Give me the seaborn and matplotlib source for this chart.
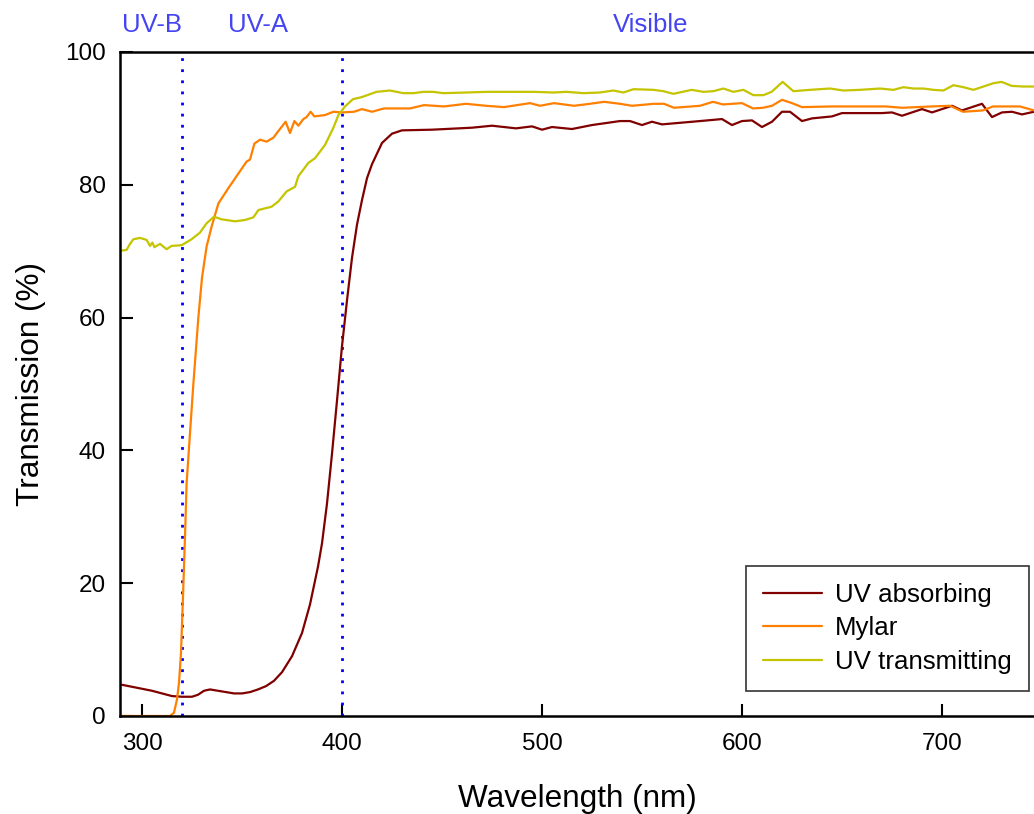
import numpy as np
import pandas as pd
import matplotlib
matplotlib.use("Agg")
import matplotlib.pyplot as plt
import seaborn as sns

# Transmission spectra of three plastic films
uv_abs_wl = [290, 295, 300, 305, 310, 315, 320, 325, 328, 331, 334, 338, 342, 346, 350,
             354, 358, 362, 366, 370, 375, 380, 384, 388, 390, 392.5, 395, 397.5, 400,
             402.5, 405, 407.5, 410, 412.5, 415, 420, 425, 430, 445, 465, 475, 487, 495,
             500, 505, 515, 525, 539, 544, 550, 555, 560, 579, 590, 595, 600, 605, 610,
             615, 620, 624, 630, 635, 645, 650, 670, 675, 680, 690, 695, 705, 710, 720,
             725, 730, 735, 740, 746]
uv_abs_t = [4.7, 4.4, 4.1, 3.8, 3.4, 3.0, 2.9, 2.9, 3.2, 3.8, 4.0, 3.8, 3.6, 3.4, 3.4,
            3.6, 4.0, 4.5, 5.3, 6.6, 9.0, 12.5, 16.8, 22.5, 26.0, 32.0, 39.5, 47.5, 55.7,
            62.6, 69.0, 74.0, 77.7, 81.0, 83.1, 86.3, 87.7, 88.2, 88.3, 88.6, 88.9, 88.5, 88.8,
            88.3, 88.7, 88.4, 89.0, 89.6, 89.6, 89.0, 89.5, 89.1, 89.6, 89.9, 89.0, 89.6, 89.7, 88.7,
            89.5, 91.0, 91.0, 89.6, 90.0, 90.3, 90.8, 90.8, 90.9, 90.4, 91.4, 90.9, 91.9, 91.2, 92.2,
            90.2, 90.9, 91.0, 90.6, 91.0]

mylar_wl = [290, 300, 310, 314, 316, 317.5, 318.5, 319.5, 320.5, 321.5, 322.3, 324, 325.7,
            328.2, 330, 332.3, 334.8, 338.2, 343.2, 348.2, 352.3, 354, 356.2, 359, 362.3,
            365.7, 368.2, 371.8, 374, 376.2, 378.2, 380.7, 382.3, 384.3, 386.2, 391.5, 395.7,
            400, 406, 410, 415, 421, 434, 441, 451, 462, 472, 481, 494, 499, 506, 516, 524,
            531, 539, 545, 556, 561, 566, 579, 585.5, 590.5, 600, 605.5, 610.5, 615, 620,
            625, 630, 645, 662, 672, 680, 695, 704, 710.5, 720.5, 725.5, 739, 746]
mylar_t = [0.0, 0.0, 0.0, 0.0, 0.5, 2.5, 5.0, 9.5, 18.0, 27.0, 35.0, 42.6, 50.1,
           60.1, 66.0, 70.7, 73.7, 77.2, 79.5, 81.7, 83.5, 83.8, 86.2, 86.8, 86.5,
           87.1, 88.1, 89.5, 87.8, 89.6, 88.9, 89.9, 90.2, 91.0, 90.3, 90.5, 91.0,
           90.9, 91.0, 91.4, 91.0, 91.5, 91.5, 92.0, 91.8, 92.2, 91.9, 91.7, 92.3, 91.9, 92.3, 91.9, 92.2,
           92.5, 92.2, 91.9, 92.2, 92.2, 91.6, 91.9, 92.5, 92.1, 92.3, 91.5, 91.6, 91.9, 92.8,
           92.3, 91.7, 91.8, 91.8, 91.8, 91.6, 91.8, 91.9, 91.0, 91.2, 91.8, 91.8, 91.2]

uvt_wl = [290, 292.3, 294, 295.7, 299, 302.3, 304, 305.2, 306.2, 309, 312.3, 314.8, 319.8,
          324.8, 329, 332.3, 336, 339.8, 346.5, 351.5, 355.7, 358.2, 364.8, 368.2, 372.3,
          376.5, 378.2, 383.2, 386.5, 391.5, 395.7, 398.2, 401.5, 405.5, 409.8, 417.3, 424,
          430.7, 435.7, 440.7, 445.5, 450.7, 462.3, 472.3, 495.7, 505.7, 512.3, 520.7, 529,
          535.7, 540.7, 545.7, 555.7, 560.7, 565.7, 574.8, 580.7, 585.7, 590.7, 595.7, 600.7,
          605.7, 610.7, 614.8, 620.3, 625.7, 634, 644, 650.7, 659, 669, 675.7, 680.7, 685.7,
          690.7, 695.7, 700.7, 705.7, 710.7, 715.7, 720.7, 725.7, 729.8, 734.8, 740.5, 746]
uvt_t = [70.1, 70.2, 71.1, 71.8, 72.0, 71.7, 70.8, 71.3, 70.6, 71.1, 70.3, 70.8, 70.9,
         71.8, 72.8, 74.2, 75.2, 74.8, 74.5, 74.7, 75.1, 76.2, 76.7, 77.5, 79.0,
         79.7, 81.3, 83.3, 84.0, 86.0, 88.6, 90.5, 91.8, 92.9, 93.2, 94.0, 94.2,
         93.8, 93.8, 94.0, 94.0, 93.8, 93.9, 94.0, 94.0, 93.9, 94.0, 93.8, 93.9,
         94.2, 93.9, 94.4, 94.3, 94.1, 93.7, 94.3, 94.0, 94.1, 94.5, 94.0, 94.3,
         93.5, 93.5, 94.0, 95.5, 94.1, 94.3, 94.5, 94.2, 94.3, 94.5, 94.3, 94.7, 94.5,
         94.5, 94.3, 94.2, 95.0, 94.7, 94.3, 94.8, 95.3, 95.5, 94.9, 94.8, 94.8]

series_names = ["UV absorbing", "Mylar", "UV transmitting"]
series_colors = ["#800000", "#FF8000", "#C4C400"]

band_edges = [320, 400]
band_labels = ["UV-B", "UV-A", "Visible"]
band_label_x = [305, 358, 554.5]

x_ticks = [300, 400, 500, 600, 700]
y_ticks = [0, 20, 40, 60, 80, 100]

frames = []
for name, wl, t in zip(series_names,
                       [uv_abs_wl, mylar_wl, uvt_wl],
                       [uv_abs_t, mylar_t, uvt_t]):
    frames.append(pd.DataFrame({"Wavelength": wl, "Transmission": t, "Film": name}))
df = pd.concat(frames, ignore_index=True)

sns.set_style("ticks")
plt.rcParams["font.family"] = ["Liberation Sans", "DejaVu Sans"]
plt.rcParams["text.color"] = "black"
plt.rcParams["axes.labelcolor"] = "black"

fig = plt.figure(figsize=(10.34, 8.14), dpi=100)
ax = fig.add_axes([120 / 1034, 98 / 814, 914 / 1034, 664 / 814])

sns.lineplot(data=df, x="Wavelength", y="Transmission", hue="Film",
             hue_order=series_names, palette=dict(zip(series_names, series_colors)),
             estimator=None, sort=False, linewidth=1.6, ax=ax)

for edge in band_edges:
    ax.plot([edge, edge], [0, 100], color="#0000FF", linewidth=2,
            linestyle=(0, (1, 3)), zorder=1)

trans = matplotlib.transforms.blended_transform_factory(ax.transData, ax.transAxes)
for lbl, xc in zip(band_labels, band_label_x):
    ax.text(xc, 1.041, lbl, transform=trans, ha="center", va="center",
            fontsize=18.5, color="#4444F2")

ax.set_xlim(289, 746)
ax.set_ylim(0, 100)
ax.set_xticks(x_ticks)
ax.set_yticks(y_ticks)
ax.tick_params(direction="in", length=9, width=1.5, labelsize=17.5, pad=12,
               colors="black", labelcolor="black", top=False, right=False)
ax.tick_params(axis="y", pad=10)

for side in ["left", "bottom", "top"]:
    ax.spines[side].set_linewidth(1.8)
    ax.spines[side].set_color("black")
ax.spines["right"].set_visible(False)

ax.set_xlabel("Wavelength (nm)", fontsize=22.7, labelpad=21)
ax.set_ylabel("Transmission (%)", fontsize=22.7, labelpad=14)

leg = ax.legend(loc="lower left", bbox_to_anchor=(0.685, 0.0377), fontsize=18.6,
                frameon=True, fancybox=False, handlelength=2.3, handletextpad=0.5,
                labelspacing=0.38, borderpad=0.65, borderaxespad=0)
leg.get_frame().set_edgecolor("black")
leg.get_frame().set_linewidth(1.2)
leg.set_title(None)
for text in leg.get_texts():
    text.set_color("black")
for line in leg.get_lines():
    line.set_linewidth(1.6)

fig.savefig("out.png", dpi=100)
